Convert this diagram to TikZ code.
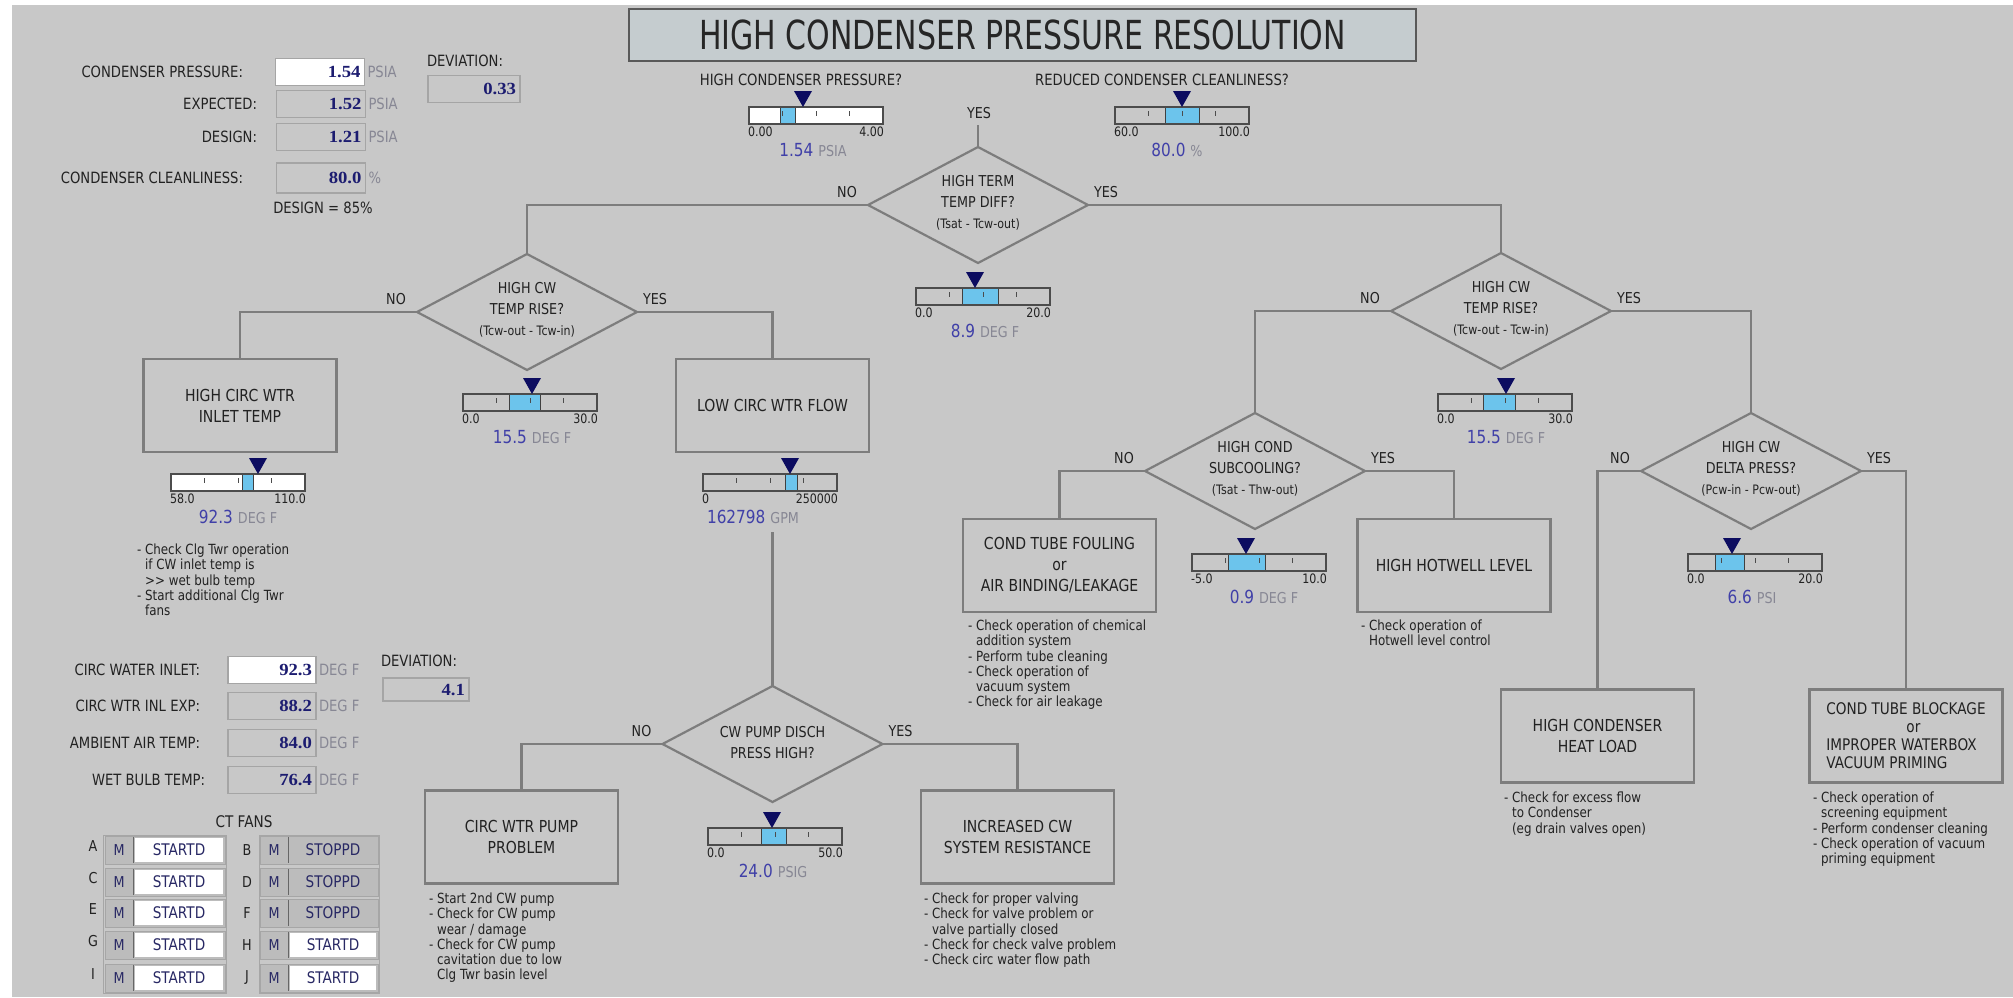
\documentclass[tikz,border=0pt]{standalone}
\usepackage{fontspec}
\setmainfont[FakeStretch=0.85]{DejaVu Sans}
\newfontfamily\titlefont[FakeStretch=0.75]{DejaVu Sans}
\newfontfamily\valfont[FakeStretch=1.1]{Liberation Serif}
\usetikzlibrary{shapes.geometric,calc}
\definecolor{bgc}{RGB}{200,200,200}
\definecolor{titlefill}{RGB}{197,204,207}
\definecolor{linec}{RGB}{125,125,125}
\definecolor{txt}{RGB}{34,34,34}
\definecolor{valc}{RGB}{28,28,112}
\definecolor{gvalc}{RGB}{64,64,168}
\definecolor{unitc}{RGB}{135,135,148}
\definecolor{gblue}{RGB}{108,196,236}
\definecolor{markc}{RGB}{12,12,96}
\definecolor{boxbd}{RGB}{165,165,165}
\definecolor{cellg}{RGB}{188,188,188}
\definecolor{fantxt}{RGB}{40,40,100}
\newcommand{\fs}[2]{\fontsize{#1}{#2}\selectfont}
\newcommand{\ind}{\phantom{- }}
\newcommand{\dsm}{\fs{13}{21}}
\tikzset{
 every node/.style={inner sep=0pt, outer sep=0pt, text=txt},
 lab/.style={font=\fs{15.5}{18}},
 unit/.style={font=\fs{15.5}{18}, text=unitc, anchor=west},
 vbox/.style={draw=boxbd, line width=1.4pt, fill=bgc, minimum width=89pt, minimum height=27pt, text width=81pt, align=right, font=\valfont\bfseries\fs{17}{19}, text=valc},
 yn/.style={font=\fs{15}{18}},
 dia/.style={shape=diamond, draw=linec, line width=2.2pt, minimum width=220pt, minimum height=116pt},
 dtext/.style={font=\fs{15}{21}, align=center},
 box/.style={draw=linec, line width=2.2pt, minimum width=193pt, minimum height=93pt, font=\fs{16.5}{21}, align=center},
 conn/.style={draw=linec, line width=2.2pt},
 note/.style={font=\fs{14}{15.2}, align=left, anchor=north west},
 gmm/.style={font=\fs{13}{15}},
 gbar/.style={draw=black!70, line width=1.2pt},
 titlebox/.style={draw=black!65, line width=1.6pt, fill=titlefill, minimum width=787pt, minimum height=52pt, font=\titlefont\fs{40}{44}, text=black!85},
 fanlet/.style={font=\fs{15}{18}},
 fanm/.style={font=\fs{15}{18}, text=fantxt},
 fanst/.style={font=\fs{16}{18}, text=fantxt},
 cellbd/.style={draw=black!35, line width=1pt},
 sepl/.style={draw=black!60, line width=1.2pt}
}
\begin{document}
\begin{tikzpicture}[x=1pt,y=-1pt]
\useasboundingbox (0,0) rectangle (2013,997);
\fill[bgc] (0,0) rectangle (2013,997);
\fill[white] (0,0) rectangle (2013,5);
\fill[white] (0,0) rectangle (12,997);

% title
\node[titlebox] (title) at (1022.5,35) {HIGH CONDENSER PRESSURE RESOLUTION};

% top-left panel
\node[lab, anchor=east] (l-cp) at (243,72) {CONDENSER PRESSURE:};
\node[vbox, fill=white] (v-cp) at (320,72) {1.54};
\node[unit] (u-cp) at ($(v-cp.east)+(3,0)$) {PSIA};
\node[lab, anchor=east] (l-exp) at (257,104) {EXPECTED:};
\node[vbox] (v-exp) at (321,104) {1.52};
\node[unit] (u-exp) at ($(v-exp.east)+(3,0)$) {PSIA};
\node[lab, anchor=east] (l-des) at (257,137) {DESIGN:};
\node[vbox] (v-des) at (321,137) {1.21};
\node[unit] (u-des) at ($(v-des.east)+(3,0)$) {PSIA};
\node[lab, anchor=east] (l-cl) at (243,178) {CONDENSER CLEANLINESS:};
\node[vbox, minimum height=30pt] (v-cl) at (321,178) {80.0};
\node[unit] (u-cl) at ($(v-cl.east)+(3,0)$) {\%};
\node[lab] (l-d85) at (323,208) {DESIGN = 85\%};
\node[lab, anchor=west] (l-dev1) at (427,61) {DEVIATION:};
\node[vbox, minimum width=92pt, text width=84pt] (v-dev1) at (474,89) {0.33};

% top gauges labels
\node[lab] (q1) at (801,80) {HIGH CONDENSER PRESSURE?};
\node[lab] (q2) at (1162,80) {REDUCED CONDENSER CLEANLINESS?};
\node[yn] (yes0) at (979,113) {YES};
\coordinate (topyes) at (978,125);

% gauges
\foreach \gn/\gx/\gy/\bl/\br/\mk/\gmin/\gmax/\gval/\gunit/\fc/\vx in {
 g1/749/107/780/795/803/0.00/4.00/1.54/PSIA/white/813,
 g2/1115/107/1165/1199/1182/60.0/100.0/80.0/\%/bgc/1177,
 g3/916/288/962/998/975/0.0/20.0/8.9/DEG F/bgc/985,
 g4/463/394/509/540/532/0.0/30.0/15.5/DEG F/bgc/532,
 g5/171/474/242/253/258/58.0/110.0/92.3/DEG F/white/238,
 g6/703/474/785/797/790/0/250000/162798/GPM/bgc/753,
 g7/1438/394/1483/1515/1506/0.0/30.0/15.5/DEG F/bgc/1506,
 g8/1192/554/1228/1265/1246/-5.0/10.0/0.9/DEG F/bgc/1264,
 g9/1688/554/1715/1744/1732/0.0/20.0/6.6/PSI/bgc/1752,
 g10/708/828/761/786/772/0.0/50.0/24.0/PSIG/bgc/773}{
  \fill[\fc] (\gx,\gy) rectangle ++(134,17);
  \fill[gblue] (\bl,\gy) rectangle (\br,\gy+17);
  \draw[black!75, line width=1pt] (\bl,\gy) -- (\bl,\gy+17) (\br,\gy) -- (\br,\gy+17);
  \foreach \q in {0.25,0.5,0.75}
    \draw[black!70, line width=0.9pt] (\gx+134*\q,\gy+4) -- ++(0,5);
  \draw[gbar] (\gx,\gy) rectangle ++(134,17);
  \fill[markc] (\mk,\gy) -- (\mk-9,\gy-16) -- (\mk+9,\gy-16) -- cycle;
  \node[gmm, anchor=west] (\gn-min) at (\gx-1,\gy+25) {\gmin};
  \node[gmm, anchor=east] (\gn-max) at (\gx+135,\gy+25) {\gmax};
  \node (\gn-val) at (\vx,\gy+43) {{\color{gvalc}\fs{18}{20}\gval}\hspace{5pt}{\color{unitc}\fs{15}{18}\gunit}};
}

% diamonds
\node[dia] (D1) at (978,205) {};
\node[dtext] (D1t) at (978,203) {HIGH TERM\\TEMP DIFF?\\{\dsm (Tsat - Tcw-out)}};
\node[dia] (D2) at (527,312) {};
\node[dtext] (D2t) at (527,310) {HIGH CW\\TEMP RISE?\\{\dsm (Tcw-out - Tcw-in)}};
\node[dia] (D3) at (1501,311) {};
\node[dtext] (D3t) at (1501,309) {HIGH CW\\TEMP RISE?\\{\dsm (Tcw-out - Tcw-in)}};
\node[dia] (D4) at (1255,471) {};
\node[dtext] (D4t) at (1255,469) {HIGH COND\\SUBCOOLING?\\{\dsm (Tsat - Thw-out)}};
\node[dia] (D5) at (1751,471) {};
\node[dtext] (D5t) at (1751,469) {HIGH CW\\DELTA PRESS?\\{\dsm (Pcw-in - Pcw-out)}};
\node[dia] (D6) at (772.5,744) {};
\node[dtext] (D6t) at (772.5,743) {CW PUMP DISCH\\PRESS HIGH?};

% yes / no labels
\foreach \d in {D1,D2,D3,D4,D5,D6}{
  \node[yn] (\d-no) at ($(\d.west)+(-21,-13)$) {NO};
  \node[yn] (\d-yes) at ($(\d.east)+(18,-13)$) {YES};
}

% boxes
\node[box] (B1) at (240,405.5) {HIGH CIRC WTR\\INLET TEMP};
\node[box] (B2) at (772.5,405.5) {LOW CIRC WTR FLOW};
\node[box] (B3) at (1059.5,565.5) {COND TUBE FOULING\\or\\AIR BINDING/LEAKAGE};
\node[box] (B4) at (1454,565.5) {HIGH HOTWELL LEVEL};
\node[box] (B5) at (1597.5,736) {HIGH CONDENSER\\HEAT LOAD};
\node[box, align=left, font=\fs{16}{18}] (B6) at (1906,736) {COND TUBE BLOCKAGE\\\hspace*{80pt}or\\IMPROPER WATERBOX\\VACUUM PRIMING};
\node[box] (B7) at (521.5,837) {CIRC WTR PUMP\\PROBLEM};
\node[box] (B8) at (1017.5,837) {INCREASED CW\\SYSTEM RESISTANCE};

% connectors
\draw[conn] (topyes) -- (D1.north);
\draw[conn] (D1.west) -| (D2.north);
\draw[conn] (D1.east) -| (D3.north);
\draw[conn] (D2.west) -| (B1.north);
\draw[conn] (D2.east) -| (B2.north);
\coordinate (flowout) at (772.5,532);
\draw[conn] (flowout) -- (D6.north);
\draw[conn] (D6.west) -| (B7.north);
\draw[conn] (D6.east) -| (B8.north);
\draw[conn] (D3.west) -| (D4.north);
\draw[conn] (D3.east) -| (D5.north);
\draw[conn] (D4.west) -| (B3.north);
\draw[conn] (D4.east) -| (B4.north);
\draw[conn] (D5.west) -| (B5.north);
\draw[conn] (D5.east) -| (B6.north);

% notes
\node[note] (n1) at (137,544) {- Check Clg Twr operation\\\ind if CW inlet temp is\\\ind >{}> wet bulb temp\\- Start additional Clg Twr\\\ind fans};
\node[note] (n3) at (968,620) {- Check operation of chemical\\\ind addition system\\- Perform tube cleaning\\- Check operation of\\\ind vacuum system\\- Check for air leakage};
\node[note] (n4) at (1361,620) {- Check operation of\\\ind Hotwell level control};
\node[note] (n5) at (1504,792) {- Check for excess flow\\\ind to Condenser\\\ind (eg drain valves open)};
\node[note] (n6) at (1813,792) {- Check operation of\\\ind screening equipment\\- Perform condenser cleaning\\- Check operation of vacuum\\\ind priming equipment};
\node[note] (n7) at (429,893) {- Start 2nd CW pump\\- Check for CW pump\\\ind wear / damage\\- Check for CW pump\\\ind cavitation due to low\\\ind Clg Twr basin level};
\node[note] (n8) at (924,893) {- Check for proper valving\\- Check for valve problem or\\\ind valve partially closed\\- Check for check valve problem\\- Check circ water flow path};

% lower-left panel
\node[lab, anchor=east] (l-cwi) at (200,670) {CIRC WATER INLET:};
\node[vbox, fill=white, minimum width=88pt, text width=80pt] (v-cwi) at (272,670) {92.3};
\node[unit] (u-cwi) at ($(v-cwi.east)+(3,0)$) {DEG F};
\node[lab, anchor=east] (l-cwe) at (200,706) {CIRC WTR INL EXP:};
\node[vbox, minimum width=88pt, text width=80pt] (v-cwe) at (272,706) {88.2};
\node[unit] (u-cwe) at ($(v-cwe.east)+(3,0)$) {DEG F};
\node[lab, anchor=east] (l-amb) at (200,743) {AMBIENT AIR TEMP:};
\node[vbox, minimum width=88pt, text width=80pt] (v-amb) at (272,743) {84.0};
\node[unit] (u-amb) at ($(v-amb.east)+(3,0)$) {DEG F};
\node[lab, anchor=east] (l-wb) at (205,780) {WET BULB TEMP:};
\node[vbox, minimum width=88pt, text width=80pt] (v-wb) at (272,780) {76.4};
\node[unit] (u-wb) at ($(v-wb.east)+(3,0)$) {DEG F};
\node[lab, anchor=west] (l-dev2) at (381,661) {DEVIATION:};
\node[vbox, minimum width=86pt, text width=78pt, minimum height=23pt] (v-dev2) at (426,689.5) {4.1};

% CT fans
\node[lab, font=\fs{16}{18}] (ctf) at (244,822) {CT FANS};
\draw[cellbd] (103,835) rectangle (226,993);
\draw[cellbd] (259,835) rectangle (379,993);
\foreach \i/\yy/\la/\lb/\sb in {1/850/A/B/0,2/882/C/D/0,3/913/E/F/0,4/945/G/H/1,5/978/I/J/1}{
  \node[fanlet] (fl\i) at (93,\yy-4) {\la};
  \fill[cellg] (105,\yy-14) rectangle (225,\yy+14);
  \draw[cellbd] (105,\yy-14) rectangle (225,\yy+14);
  \node[fanm] (fml\i) at (119,\yy) {M};
  \draw[sepl] (133.5,\yy-13) -- (133.5,\yy+13);
  \fill[white] (135,\yy-12) rectangle (223,\yy+12);
  \node[fanst] (fsl\i) at (179,\yy) {STARTD};
  \node[fanlet] (fr\i) at (247,\yy) {\lb};
  \fill[cellg] (260,\yy-14) rectangle (378,\yy+14);
  \draw[cellbd] (260,\yy-14) rectangle (378,\yy+14);
  \node[fanm] (fmr\i) at (274,\yy) {M};
  \draw[sepl] (288.5,\yy-13) -- (288.5,\yy+13);
  \ifnum\sb=1
    \fill[white] (290,\yy-12) rectangle (376,\yy+12);
    \node[fanst] (fsr\i) at (333,\yy) {STARTD};
  \else
    \node[fanst] (fsr\i) at (333,\yy) {STOPPD};
  \fi
}
\end{tikzpicture}
\end{document}
